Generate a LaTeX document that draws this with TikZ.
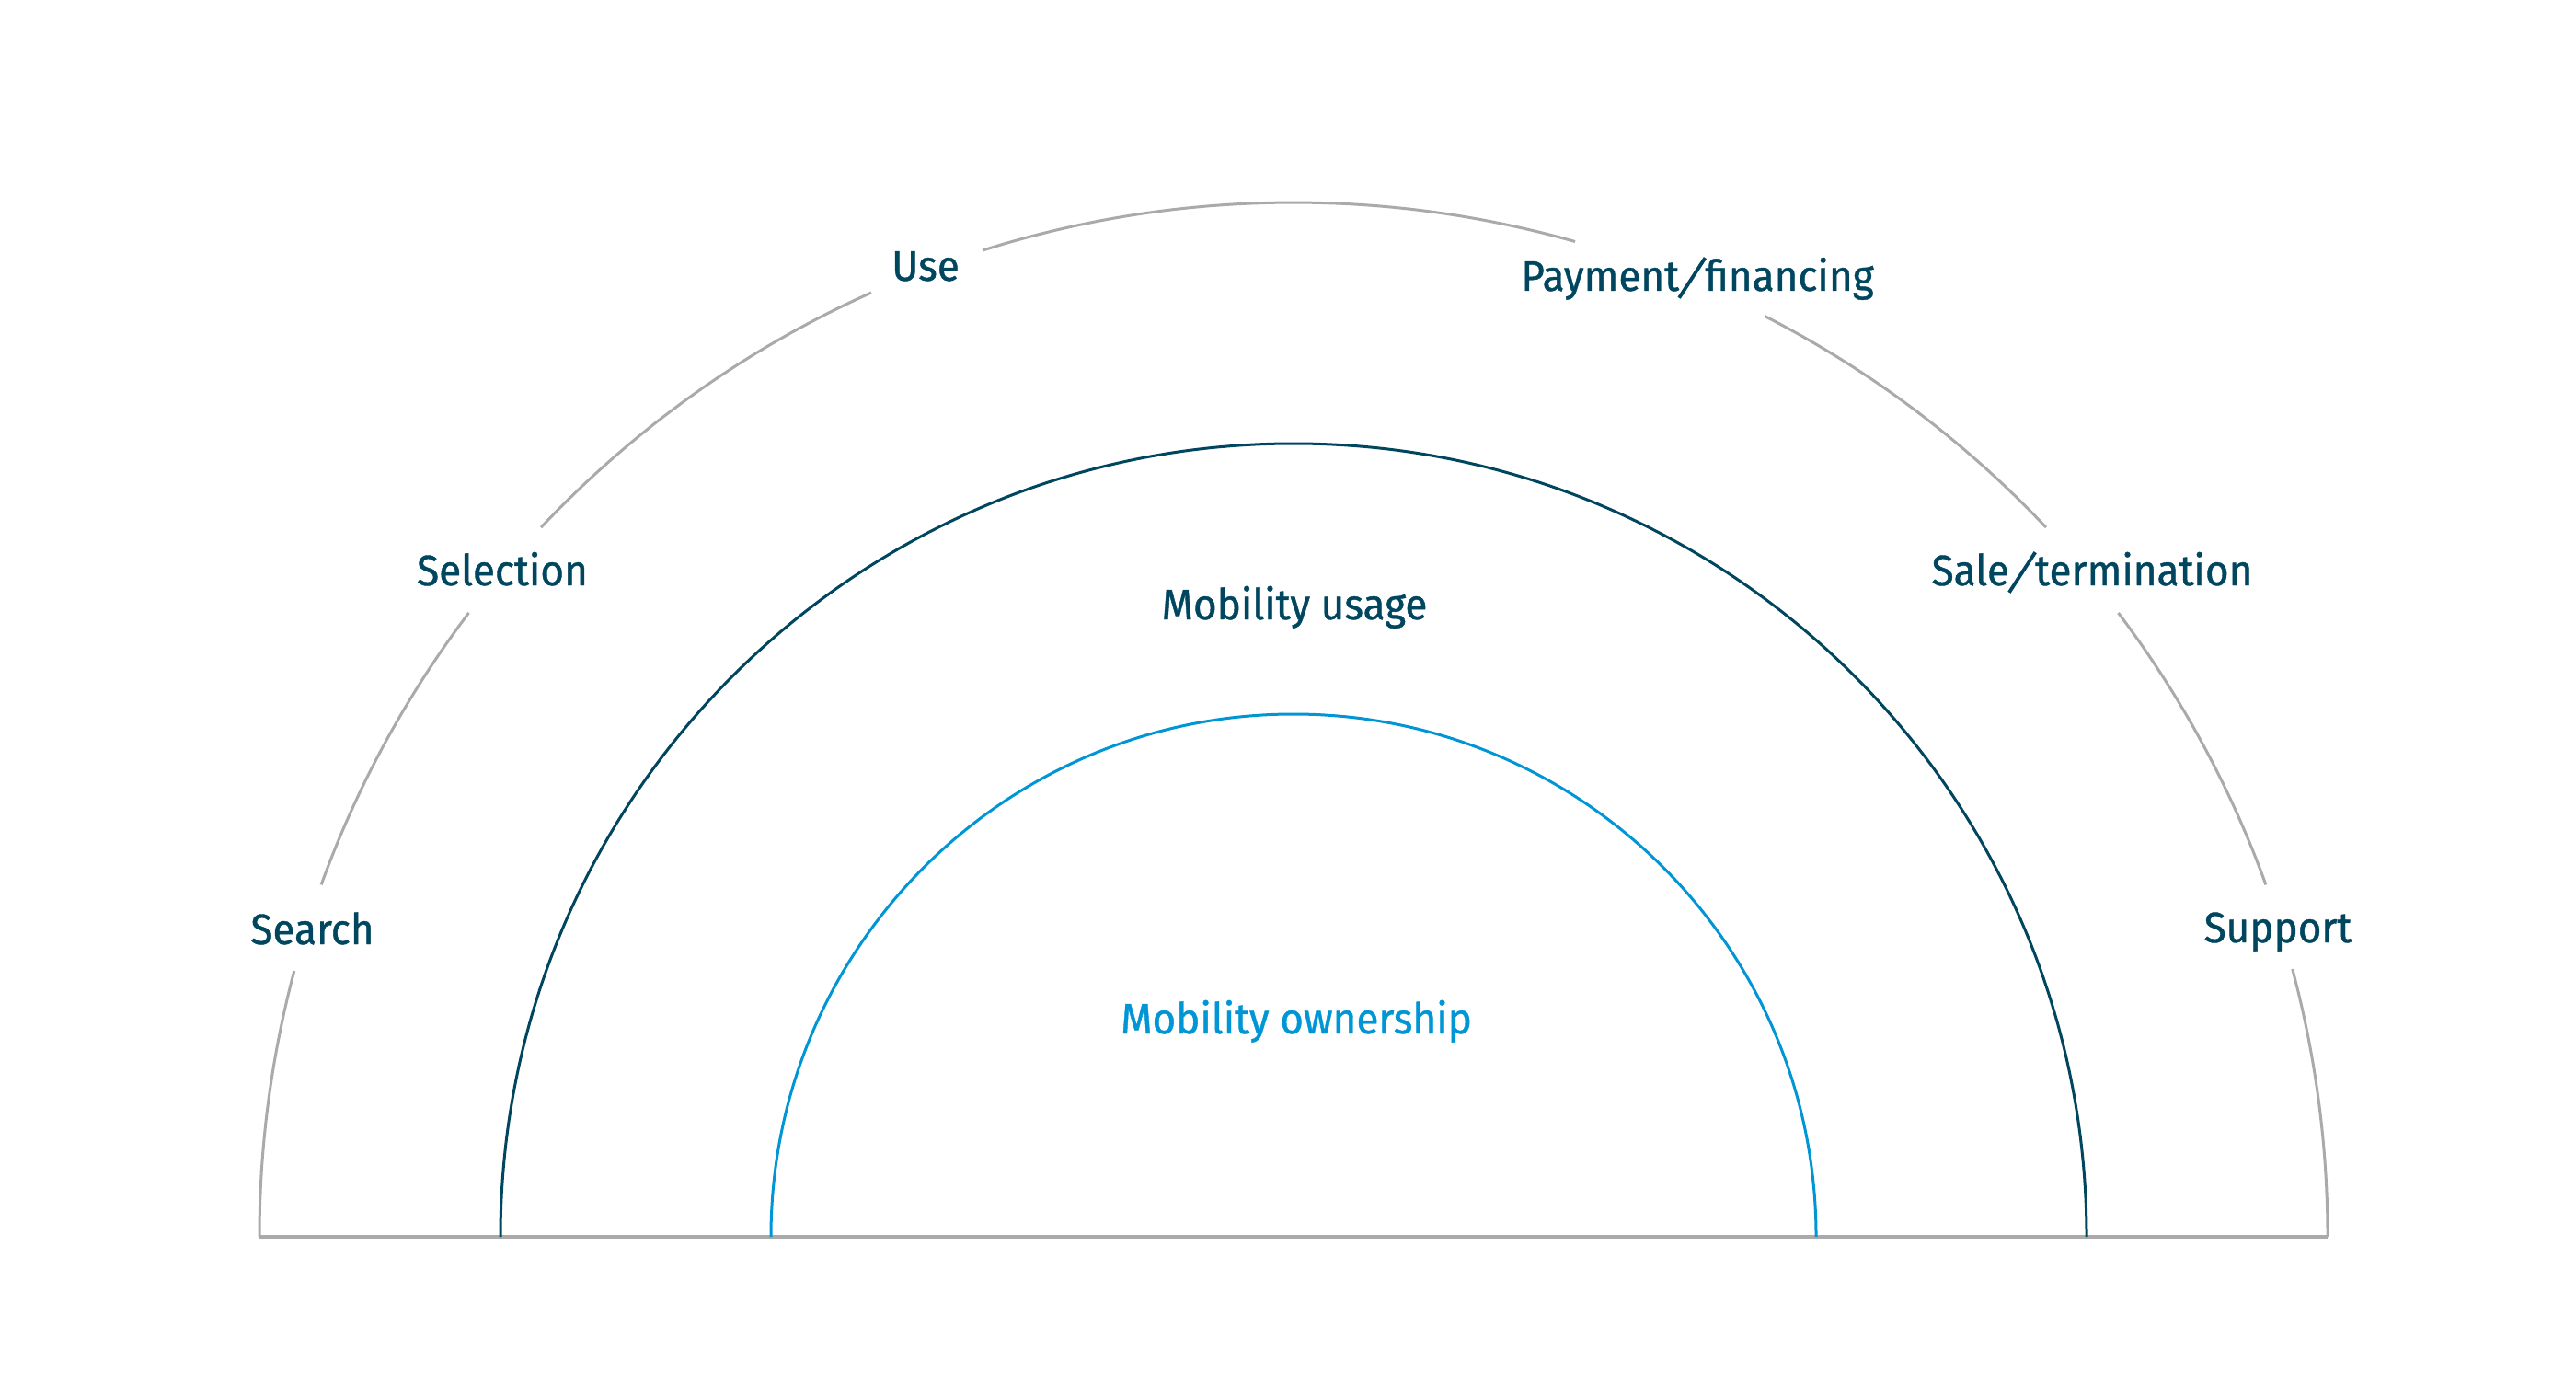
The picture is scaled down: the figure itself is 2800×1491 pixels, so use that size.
\documentclass[tikz,border=0pt]{standalone}
\usepackage{fontspec}
\setmainfont{Fira Sans}[FakeStretch=0.95,FakeBold=0.9]
\usetikzlibrary{calc}
\definecolor{navy}{RGB}{0,70,95}
\definecolor{sky}{RGB}{0,150,214}
\definecolor{lgrey}{RGB}{170,170,170}
\newcommand\myslash{\kern-0.4pt\raisebox{-2.2pt}{\rotatebox{57}{\rule{13pt}{0.95pt}}}\kern-0.4pt}
\begin{document}
\begin{tikzpicture}[x=0.25pt,y=0.25pt,
  lab/.style={anchor=base,inner sep=0pt,text=navy,font=\fontsize{11.6}{13}\selectfont},
  outerarc/.style={draw=lgrey,line width=0.75pt},
  midarc/.style={draw=navy,line width=0.75pt},
  innarc/.style={draw=sky,line width=0.75pt}]
\useasboundingbox (0,0) rectangle (2800,1491);
\coordinate (C) at (1406,147);
% baseline
\coordinate (BL) at (282,147);
\coordinate (BR) at (2530,147);
\draw[draw=lgrey,line width=1.1pt] (BL) -- (BR);
% outer arc segments
\foreach \a/\b in {0/15.0,19.9/37.1,43.3/62.9,74.2/107.5,114.1/136.7,142.9/160.1,165.1/180}
  \draw[outerarc] ($(C)+(\a:1124)$) arc[start angle=\a,end angle=\b,radius=1124];
% middle and inner arcs
\draw[midarc] ($(C)+(0:862)$) arc[start angle=0,end angle=180,radius=862];
\draw[innarc] ($(C)+(0:568)$) arc[start angle=0,end angle=180,radius=568];
% labels
\node[lab] (search) at (339.5,465) {Search};
\node[lab] (selection) at (546,855) {Selection};
\node[lab] (use) at (1006,1186) {Use};
\node[lab] (payment) at (1845,1175) {Payment\myslash financing};
\node[lab] (sale) at (2274,855) {Sale\myslash termination};
\node[lab] (support) at (2476,467) {Support};
\node[lab] (usage) at (1407,818) {Mobility usage};
\node[lab,text=sky] (ownership) at (1409,368) {Mobility ownership};
\end{tikzpicture}
\end{document}
